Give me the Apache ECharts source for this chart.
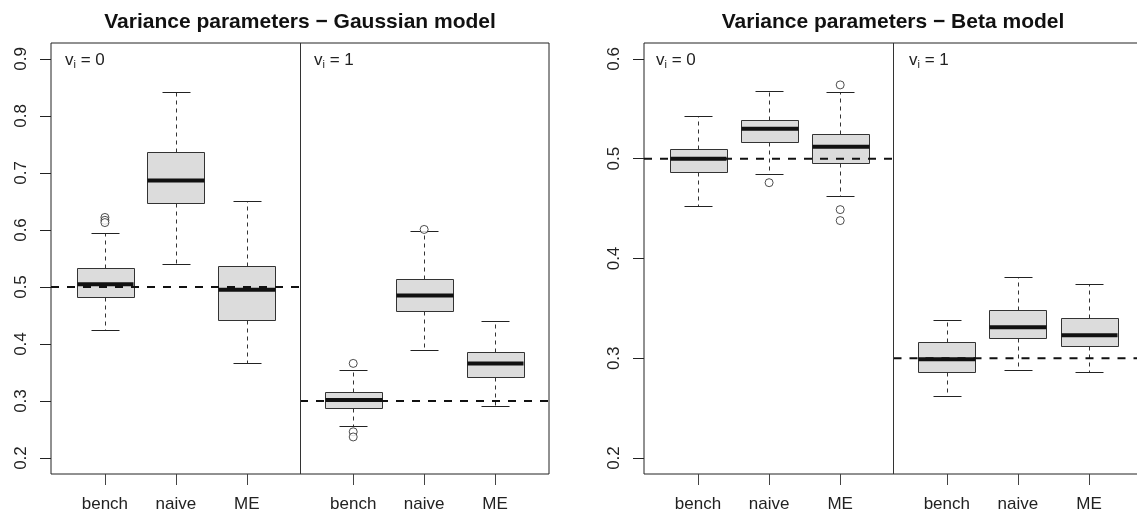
<!DOCTYPE html>
<html>
<head>
<meta charset="utf-8">
<script src="https://cdn.jsdelivr.net/npm/echarts@6/dist/echarts.min.js"></script>
<style>
  html, body { margin: 0; padding: 0; background: #fff; }
  #chart { width: 1137px; height: 517px; }
</style>
</head>
<body>
<div id="chart"></div>
<script>
// x positions of the six boxes and their labels
var methods = ['bench', 'naive', 'ME', 'bench', 'naive', 'ME'];
var positions = [1, 2, 3, 4.5, 5.5, 6.5];

// [lower whisker, Q1, median, Q3, upper whisker]
var gaussStats = [
  [0.425, 0.483, 0.505, 0.533, 0.595],
  [0.541, 0.648, 0.687, 0.737, 0.842],
  [0.366, 0.442, 0.495, 0.536, 0.651],
  [0.257, 0.288, 0.302, 0.316, 0.354],
  [0.389, 0.458, 0.485, 0.514, 0.598],
  [0.292, 0.342, 0.366, 0.386, 0.441]
];
var gaussOutliers = [[1, 0.622], [1, 0.617], [1, 0.613], [4.5, 0.366], [4.5, 0.246], [4.5, 0.237], [5.5, 0.601]];

var betaStats = [
  [0.453, 0.487, 0.500, 0.510, 0.543],
  [0.485, 0.517, 0.530, 0.539, 0.568],
  [0.463, 0.496, 0.512, 0.525, 0.567],
  [0.262, 0.286, 0.299, 0.316, 0.338],
  [0.288, 0.320, 0.331, 0.348, 0.381],
  [0.286, 0.312, 0.323, 0.340, 0.374]
];
var betaOutliers = [[2, 0.476], [3, 0.574], [3, 0.449], [3, 0.438]];

// true values, v_i = 0 and v_i = 1
var gaussTrue = [0.5, 0.3];
var betaTrue = [0.5, 0.3];

var gaussTicks = [0.2, 0.3, 0.4, 0.5, 0.6, 0.7, 0.8, 0.9];
var betaTicks = [0.2, 0.3, 0.4, 0.5, 0.6];

var xMin = 0.24, xMax = 7.26, divider = 3.75;

var chart = echarts.init(document.getElementById('chart'));

function px(v) { return Math.round(v) + 0.5; }

function renderBox(params, api) {
  var x = api.value(0);
  var c = api.coord([x, 0])[0];
  var hb = api.size([0.4, 0])[0];
  var hs = api.size([0.2, 0])[0];
  var lo = api.coord([x, api.value(1)])[1];
  var q1 = api.coord([x, api.value(2)])[1];
  var md = api.coord([x, api.value(3)])[1];
  var q3 = api.coord([x, api.value(4)])[1];
  var hi = api.coord([x, api.value(5)])[1];
  var cx = px(c);
  var dash = { stroke: '#333', lineWidth: 1, lineDash: [4, 4] };
  var solid = { stroke: '#222', lineWidth: 1 };
  return {
    type: 'group',
    children: [
      { type: 'line', shape: { x1: cx, y1: px(q1), x2: cx, y2: px(lo) }, style: dash },
      { type: 'line', shape: { x1: cx, y1: px(q3), x2: cx, y2: px(hi) }, style: dash },
      { type: 'line', shape: { x1: px(c - hs), y1: px(lo), x2: px(c + hs), y2: px(lo) }, style: solid },
      { type: 'line', shape: { x1: px(c - hs), y1: px(hi), x2: px(c + hs), y2: px(hi) }, style: solid },
      { type: 'rect', shape: { x: px(c - hb), y: px(q3), width: Math.round(2 * hb), height: Math.round(q1 - q3) },
        style: { fill: '#dcdcdc', stroke: '#333', lineWidth: 1 } },
      { type: 'line', shape: { x1: px(c - hb), y1: md, x2: px(c + hb), y2: md }, style: { stroke: '#111', lineWidth: 4 } }
    ]
  };
}

function boxData(stats) {
  return stats.map(function (s, i) { return [positions[i]].concat(s); });
}

function xAxisFor(idx) {
  return {
    gridIndex: idx, type: 'value', min: xMin, max: xMax,
    axisLine: { show: false }, splitLine: { show: false },
    axisTick: { show: true, customValues: positions, length: 11, lineStyle: { color: '#444' } },
    axisLabel: {
      customValues: positions, margin: 22, fontSize: 17, color: '#222',
      fontFamily: 'Liberation Sans, Arial, sans-serif',
      formatter: function (v) { return methods[positions.indexOf(v)]; }
    }
  };
}

function yAxisFor(idx, min, max, ticks) {
  return {
    gridIndex: idx, type: 'value', min: min, max: max,
    axisLine: { show: false }, splitLine: { show: false },
    axisTick: { show: true, customValues: ticks, length: 11, lineStyle: { color: '#222' } },
    axisLabel: {
      customValues: ticks, rotate: 90, margin: 21, fontSize: 17, color: '#222',
      fontFamily: 'Liberation Sans, Arial, sans-serif',
      formatter: function (v) { return v.toFixed(1); }
    }
  };
}

function panelSeries(idx, stats, outliers, truth) {
  return [
    {
      type: 'custom', xAxisIndex: idx, yAxisIndex: idx, renderItem: renderBox,
      data: boxData(stats), z: 2, silent: true,
      markLine: {
        silent: true, symbol: 'none', label: { show: false },
        lineStyle: { color: '#333', type: 'solid', width: 1 },
        data: [{ xAxis: divider }]
      }
    },
    {
      type: 'scatter', xAxisIndex: idx, yAxisIndex: idx, data: outliers, symbol: 'circle', symbolSize: 8,
      itemStyle: { color: '#fff', borderColor: '#222', borderWidth: 1 }, z: 3, silent: true
    },
    {
      type: 'line', xAxisIndex: idx, yAxisIndex: idx, showSymbol: false, silent: true, z: 4,
      data: [[xMin, truth[0]], [divider, truth[0]]],
      lineStyle: { color: '#111', width: 2, type: [8, 8] }
    },
    {
      type: 'line', xAxisIndex: idx, yAxisIndex: idx, showSymbol: false, silent: true, z: 4,
      data: [[divider, truth[1]], [xMax, truth[1]]],
      lineStyle: { color: '#111', width: 2, type: [8, 8] }
    }
  ];
}

function vLabel(x, n) {
  return {
    type: 'text', x: x, y: 60, z: 10,
    style: {
      text: '{v|v}{s|i}{v| = ' + n + '}', verticalAlign: 'middle',
      rich: {
        v: { fontSize: 17, fontFamily: 'Liberation Sans, Arial, sans-serif', fill: '#222' },
        s: { fontSize: 11, fontFamily: 'Liberation Sans, Arial, sans-serif', fill: '#222', padding: [9, 0, 0, 0] }
      }
    }
  };
}

function titleText(x, text) {
  return {
    type: 'text', x: x, y: 22, z: 10,
    style: { text: text, align: 'center', verticalAlign: 'middle', fill: '#111',
      font: 'bold 21px "Liberation Sans", Arial, sans-serif' }
  };
}

chart.setOption({
  animation: false,
  grid: [
    { left: 51, top: 43, width: 498, height: 431, outerBoundsMode: 'none', show: true, borderColor: '#222', borderWidth: 1, backgroundColor: 'transparent' },
    { left: 644, top: 43, width: 499, height: 431, outerBoundsMode: 'none', show: true, borderColor: '#222', borderWidth: 1, backgroundColor: 'transparent' }
  ],
  xAxis: [xAxisFor(0), xAxisFor(1)],
  yAxis: [yAxisFor(0, 0.172, 0.928, gaussTicks), yAxisFor(1, 0.184, 0.616, betaTicks)],
  series: panelSeries(0, gaussStats, gaussOutliers, gaussTrue).concat(panelSeries(1, betaStats, betaOutliers, betaTrue)),
  graphic: [
    titleText(300, 'Variance parameters \u2212 Gaussian model'),
    titleText(893, 'Variance parameters \u2212 Beta model'),
    vLabel(65, 0), vLabel(314, 1), vLabel(656, 0), vLabel(909, 1)
  ]
});
</script>
</body>
</html>
